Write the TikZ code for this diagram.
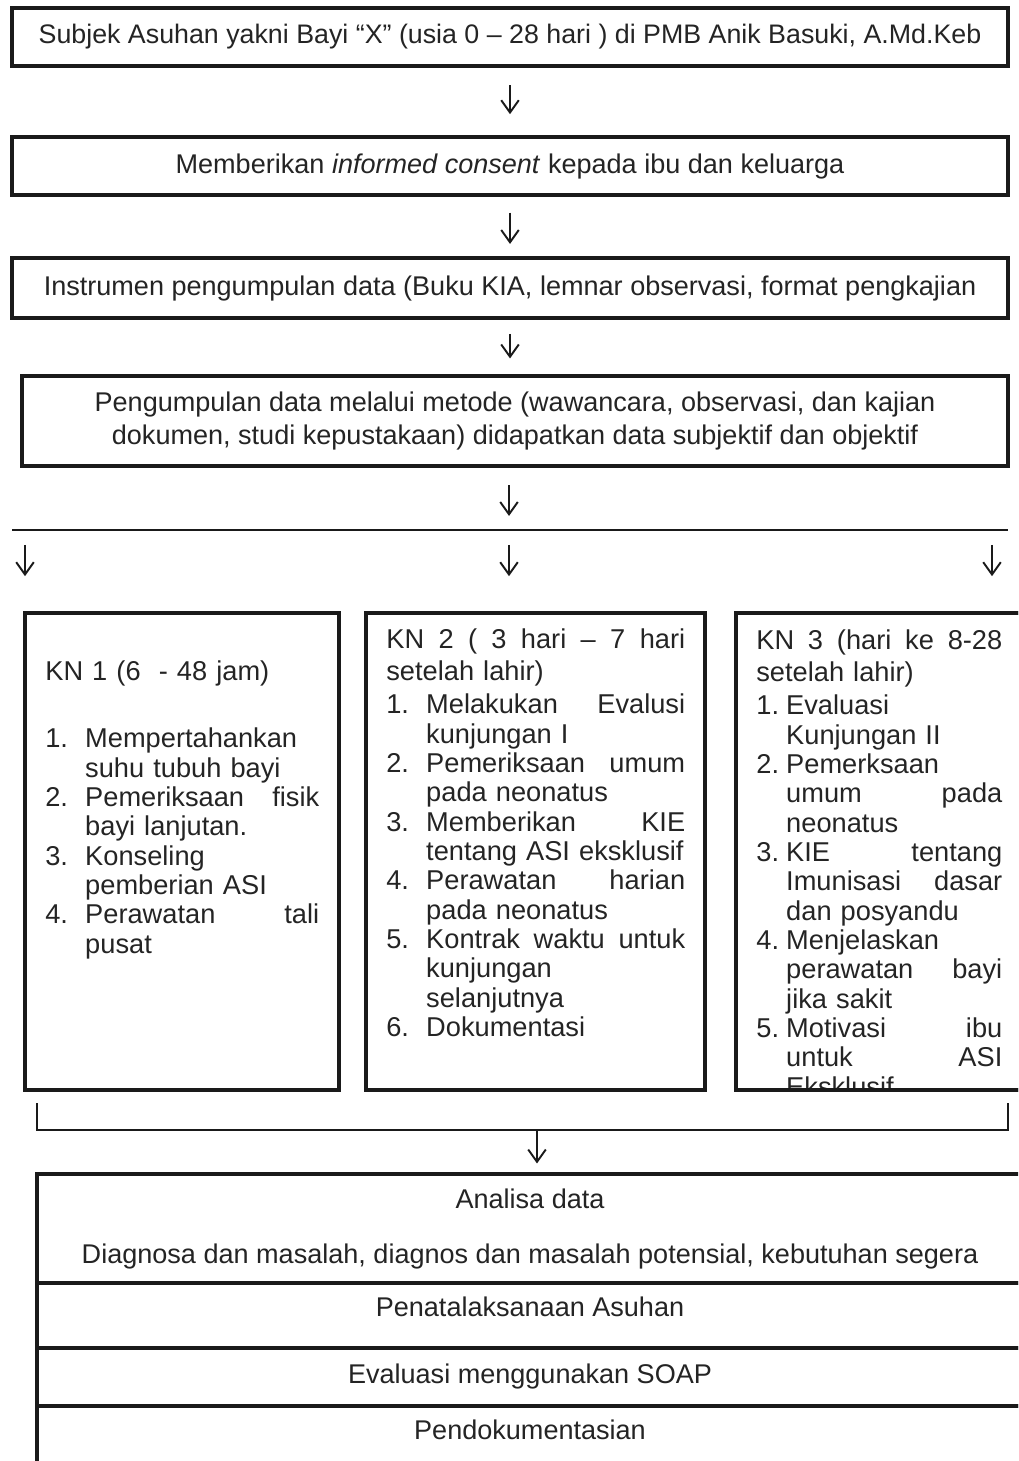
\documentclass[tikz,border=0pt]{standalone}
\usepackage{fontspec}
\setmainfont{Liberation Sans}
\usepackage{tikz}
\usetikzlibrary{arrows.meta, positioning, calc}
\usepackage{xcolor}
\definecolor{linecol}{HTML}{1A1A1A}
\definecolor{textcol}{HTML}{242424}

\newlength{\knnum}
\newlength{\knwd}
\newcommand{\knitem}[2]{\makebox[\knnum][l]{#1}#2}
\newcommand{\knfill}[1]{\hbox to \knwd{#1}}

\begin{document}
\begin{tikzpicture}[
    x=0.02cm, y=-0.02cm,
    >={Straight Barb[length=7pt, width=10pt]},
    box/.style={
        draw=linecol, line width=2pt, inner sep=0pt, align=center,
        text=textcol, font=\fontsize{15.4pt}{18.7pt}\selectfont
    },
    knbox/.style={
        draw=linecol, line width=2pt, minimum height=9.54cm, inner sep=0pt
    },
    kntext/.style={
        anchor=north west, inner sep=0pt, text width=9cm, align=left,
        text=textcol, font=\fontsize{15.5pt}{16.7pt}\selectfont
    },
    rowbox/.style={
        draw=linecol, line width=2pt, minimum width=20.06cm, inner sep=0pt
    },
    rowtext/.style={
        text=textcol, font=\fontsize{15.4pt}{16.7pt}\selectfont,
        text height=1.5ex, text depth=.25ex, inner sep=0pt
    },
    flow/.style={->, linecol, line width=1.1pt},
]
\useasboundingbox (0,0) rectangle (1018,1461);
\clip (0,0) rectangle (1018,1461);

% ── Top boxes ──
\node[box, minimum width=19.92cm, minimum height=1.16cm,
      font=\fontsize{15.25pt}{18.7pt}\selectfont] (subjek) at (510,37)
    {Subjek Asuhan yakni Bayi “X” (usia 0 – 28 hari ) di PMB Anik Basuki, A.Md.Keb};

\node[box, minimum width=19.92cm, minimum height=1.16cm] (consent) at (510,166)
    {Memberikan \textit{informed consent} kepada ibu dan keluarga};

\node[box, minimum width=19.92cm, minimum height=1.2cm] (instrumen) at (510,288)
    {Instrumen pengumpulan data (Buku KIA, lemnar observasi, format pengkajian};

\node[box, minimum width=19.72cm, minimum height=1.8cm] (pengumpulan) at (515,421)
    {Pengumpulan data melalui metode (wawancara, observasi, dan kajian\\
     dokumen, studi kepustakaan) didapatkan data subjektif dan objektif};

% ── Split line ──
\coordinate (splitL) at (12,530);
\coordinate (splitM) at (509,530);
\coordinate (splitR) at (1008,530);
\coordinate (split1) at (25,530);
\coordinate (split3) at (992,530);

% ── KN boxes ──
\node[knbox, minimum width=6.28cm] (kn1) at (182,851.5) {};
\node[knbox, minimum width=6.78cm] (kn2) at (535.5,851.5) {};
\node[knbox, minimum width=5.88cm] (kn3) at (883,851.5) {};

\node[kntext] (kn1txt) at (45,660)
    {\setlength{\knnum}{22.7pt}\setlength{\knwd}{133.2pt}%
     KN 1 (6\ \ - 48 jam)\\[21.8pt]
     \knitem{1.}{Mempertahankan}\\
     \knitem{}{suhu tubuh bayi}\\
     \knitem{2.}{\knfill{Pemeriksaan\hfill fisik}}\\
     \knitem{}{bayi lanjutan.}\\
     \knitem{3.}{Konseling}\\
     \knitem{}{pemberian ASI}\\
     \knitem{4.}{\knfill{Perawatan\hfill tali}}\\
     \knitem{}{pusat}};

\node[kntext] (kn2txt) at (386,628)
    {\setlength{\knnum}{22.7pt}\setlength{\knwd}{147.4pt}%
     \hbox to 170.1pt{KN\hfill 2\hfill (\hfill 3\hfill hari\hfill –\hfill 7\hfill hari}\\[2pt]
     setelah lahir)\\[2pt]
     \knitem{1.}{\knfill{Melakukan\hfill Evalusi}}\\
     \knitem{}{kunjungan I}\\
     \knitem{2.}{\knfill{Pemeriksaan\hfill umum}}\\
     \knitem{}{pada neonatus}\\
     \knitem{3.}{\knfill{Memberikan\hfill KIE}}\\
     \knitem{}{tentang ASI eksklusif}\\
     \knitem{4.}{\knfill{Perawatan\hfill harian}}\\
     \knitem{}{pada neonatus}\\
     \knitem{5.}{\knfill{Kontrak\hfill waktu\hfill untuk}}\\
     \knitem{}{kunjungan}\\
     \knitem{}{selanjutnya}\\
     \knitem{6.}{Dokumentasi}};

\begin{scope}
\clip (kn3.south west) rectangle (kn3.north east);
\node[kntext] (kn3txt) at (756,629)
    {\setlength{\knnum}{17pt}\setlength{\knwd}{123pt}%
     \hbox to 140pt{KN\hfill 3\hfill (hari\hfill ke\hfill 8-28}\\[2pt]
     setelah lahir)\\[2pt]
     \knitem{1.}{Evaluasi}\\
     \knitem{}{Kunjungan II}\\
     \knitem{2.}{Pemerksaan}\\
     \knitem{}{\knfill{umum\hfill pada}}\\
     \knitem{}{neonatus}\\
     \knitem{3.}{\knfill{KIE\hfill tentang}}\\
     \knitem{}{\knfill{Imunisasi\hfill dasar}}\\
     \knitem{}{dan posyandu}\\
     \knitem{4.}{Menjelaskan}\\
     \knitem{}{\knfill{perawatan\hfill bayi}}\\
     \knitem{}{jika sakit}\\
     \knitem{5.}{\knfill{Motivasi\hfill ibu}}\\
     \knitem{}{\knfill{untuk\hfill ASI}}\\
     \knitem{}{Eksklusif}};
\end{scope}
\node[knbox, minimum width=5.88cm] at (kn3) {};

% ── Bottom rows ──
\node[rowbox, minimum height=2.18cm] (analisa) at (538.5,1228.5) {};
\node[rowbox, minimum height=1.3cm] (penata) at (538.5,1315.5) {};
\node[rowbox, minimum height=1.16cm] (evaluasi) at (538.5,1377) {};
\node[rowbox, minimum height=1.88cm] (dokumen) at (538.5,1453) {};

\node[rowtext] (analisatxt) at (530,1203) {Analisa data};
\node[rowtext] (diagnosatxt) at (530,1258)
    {Diagnosa dan masalah, diagnos dan masalah potensial, kebutuhan segera};
\node[rowtext] (penatatxt) at (530,1311) {Penatalaksanaan Asuhan};
\node[rowtext] (evaluasitxt) at (530,1378) {Evaluasi menggunakan SOAP};
\node[rowtext] (dokumentxt) at (530,1434) {Pendokumentasian};

% ── Main flow arrows ──
\draw[flow, shorten <=10pt, shorten >=12pt] (subjek.south) -- (consent.north);
\draw[flow, shorten <=9pt, shorten >=7pt] (consent.south) -- (instrumen.north);
\draw[flow, shorten <=8pt, shorten >=9pt] (instrumen.south) -- (instrumen.south |- pengumpulan.north);
\draw[flow, shorten <=10pt, shorten >=8pt] (pengumpulan.south -| splitM) -- (splitM);

% ── Split to KN boxes ──
\draw[linecol, line width=1.4pt] (splitL) -- (splitR);
\draw[flow, shorten <=8.5pt, shorten >=20pt] (split1) -- (split1 |- kn1.north);
\draw[flow, shorten <=8.5pt, shorten >=20pt] (splitM) -- (splitM |- kn2.north);
\draw[flow, shorten <=8.5pt, shorten >=20pt] (split3) -- (split3 |- kn3.north);

% ── Join to analysis ──
\coordinate (joinL) at (37,1130);
\coordinate (joinM) at (537,1130);
\coordinate (joinR) at (1008,1130);
\draw[linecol, line width=1.2pt] (joinL) ++(0,-27) -- (joinL) -- (joinR) -- ++(0,-27);
\draw[flow, shorten >=5pt] (joinM) -- (joinM |- analisa.north);

\end{tikzpicture}
\end{document}
